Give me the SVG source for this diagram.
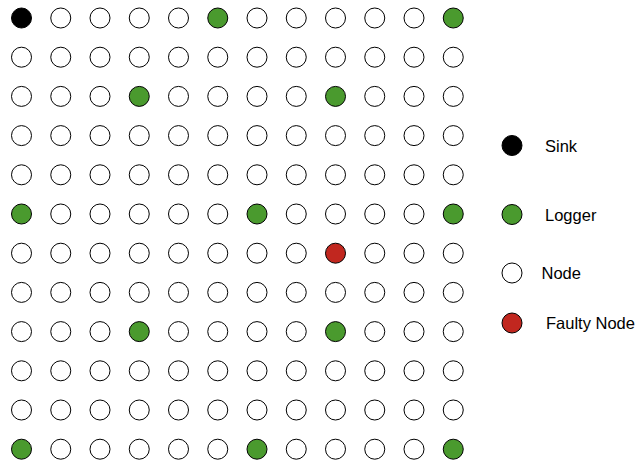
<svg xmlns="http://www.w3.org/2000/svg" width="638" height="465" viewBox="0 0 638 465">
<style>
circle{stroke:#000;stroke-width:1;r:10px}
.n{fill:#fff}
.s{fill:#000}
.l{fill:#4a9a2e}
.f{fill:#c1271f}
text{font-family:"Liberation Sans",Arial,sans-serif;font-size:16.5px;fill:#000}
</style>
<rect width="638" height="465" fill="#fff"/>
<g id="connectors"/>
<g id="grid">
<g id="n0-0"><circle class="s" cx="21.5" cy="18" r="10"/></g>
<g id="n0-1"><circle class="n" cx="60.75" cy="18" r="10"/></g>
<g id="n0-2"><circle class="n" cx="100" cy="18" r="10"/></g>
<g id="n0-3"><circle class="n" cx="139.25" cy="18" r="10"/></g>
<g id="n0-4"><circle class="n" cx="178.5" cy="18" r="10"/></g>
<g id="n0-5"><circle class="l" cx="217.75" cy="18" r="10"/></g>
<g id="n0-6"><circle class="n" cx="257" cy="18" r="10"/></g>
<g id="n0-7"><circle class="n" cx="296.25" cy="18" r="10"/></g>
<g id="n0-8"><circle class="n" cx="335.5" cy="18" r="10"/></g>
<g id="n0-9"><circle class="n" cx="374.75" cy="18" r="10"/></g>
<g id="n0-10"><circle class="n" cx="414" cy="18" r="10"/></g>
<g id="n0-11"><circle class="l" cx="453.25" cy="18" r="10"/></g>
<g id="n1-0"><circle class="n" cx="21.5" cy="57.2" r="10"/></g>
<g id="n1-1"><circle class="n" cx="60.75" cy="57.2" r="10"/></g>
<g id="n1-2"><circle class="n" cx="100" cy="57.2" r="10"/></g>
<g id="n1-3"><circle class="n" cx="139.25" cy="57.2" r="10"/></g>
<g id="n1-4"><circle class="n" cx="178.5" cy="57.2" r="10"/></g>
<g id="n1-5"><circle class="n" cx="217.75" cy="57.2" r="10"/></g>
<g id="n1-6"><circle class="n" cx="257" cy="57.2" r="10"/></g>
<g id="n1-7"><circle class="n" cx="296.25" cy="57.2" r="10"/></g>
<g id="n1-8"><circle class="n" cx="335.5" cy="57.2" r="10"/></g>
<g id="n1-9"><circle class="n" cx="374.75" cy="57.2" r="10"/></g>
<g id="n1-10"><circle class="n" cx="414" cy="57.2" r="10"/></g>
<g id="n1-11"><circle class="n" cx="453.25" cy="57.2" r="10"/></g>
<g id="n2-0"><circle class="n" cx="21.5" cy="96.4" r="10"/></g>
<g id="n2-1"><circle class="n" cx="60.75" cy="96.4" r="10"/></g>
<g id="n2-2"><circle class="n" cx="100" cy="96.4" r="10"/></g>
<g id="n2-3"><circle class="l" cx="139.25" cy="96.4" r="10"/></g>
<g id="n2-4"><circle class="n" cx="178.5" cy="96.4" r="10"/></g>
<g id="n2-5"><circle class="n" cx="217.75" cy="96.4" r="10"/></g>
<g id="n2-6"><circle class="n" cx="257" cy="96.4" r="10"/></g>
<g id="n2-7"><circle class="n" cx="296.25" cy="96.4" r="10"/></g>
<g id="n2-8"><circle class="l" cx="335.5" cy="96.4" r="10"/></g>
<g id="n2-9"><circle class="n" cx="374.75" cy="96.4" r="10"/></g>
<g id="n2-10"><circle class="n" cx="414" cy="96.4" r="10"/></g>
<g id="n2-11"><circle class="n" cx="453.25" cy="96.4" r="10"/></g>
<g id="n3-0"><circle class="n" cx="21.5" cy="135.6" r="10"/></g>
<g id="n3-1"><circle class="n" cx="60.75" cy="135.6" r="10"/></g>
<g id="n3-2"><circle class="n" cx="100" cy="135.6" r="10"/></g>
<g id="n3-3"><circle class="n" cx="139.25" cy="135.6" r="10"/></g>
<g id="n3-4"><circle class="n" cx="178.5" cy="135.6" r="10"/></g>
<g id="n3-5"><circle class="n" cx="217.75" cy="135.6" r="10"/></g>
<g id="n3-6"><circle class="n" cx="257" cy="135.6" r="10"/></g>
<g id="n3-7"><circle class="n" cx="296.25" cy="135.6" r="10"/></g>
<g id="n3-8"><circle class="n" cx="335.5" cy="135.6" r="10"/></g>
<g id="n3-9"><circle class="n" cx="374.75" cy="135.6" r="10"/></g>
<g id="n3-10"><circle class="n" cx="414" cy="135.6" r="10"/></g>
<g id="n3-11"><circle class="n" cx="453.25" cy="135.6" r="10"/></g>
<g id="n4-0"><circle class="n" cx="21.5" cy="174.8" r="10"/></g>
<g id="n4-1"><circle class="n" cx="60.75" cy="174.8" r="10"/></g>
<g id="n4-2"><circle class="n" cx="100" cy="174.8" r="10"/></g>
<g id="n4-3"><circle class="n" cx="139.25" cy="174.8" r="10"/></g>
<g id="n4-4"><circle class="n" cx="178.5" cy="174.8" r="10"/></g>
<g id="n4-5"><circle class="n" cx="217.75" cy="174.8" r="10"/></g>
<g id="n4-6"><circle class="n" cx="257" cy="174.8" r="10"/></g>
<g id="n4-7"><circle class="n" cx="296.25" cy="174.8" r="10"/></g>
<g id="n4-8"><circle class="n" cx="335.5" cy="174.8" r="10"/></g>
<g id="n4-9"><circle class="n" cx="374.75" cy="174.8" r="10"/></g>
<g id="n4-10"><circle class="n" cx="414" cy="174.8" r="10"/></g>
<g id="n4-11"><circle class="n" cx="453.25" cy="174.8" r="10"/></g>
<g id="n5-0"><circle class="l" cx="21.5" cy="214" r="10"/></g>
<g id="n5-1"><circle class="n" cx="60.75" cy="214" r="10"/></g>
<g id="n5-2"><circle class="n" cx="100" cy="214" r="10"/></g>
<g id="n5-3"><circle class="n" cx="139.25" cy="214" r="10"/></g>
<g id="n5-4"><circle class="n" cx="178.5" cy="214" r="10"/></g>
<g id="n5-5"><circle class="n" cx="217.75" cy="214" r="10"/></g>
<g id="n5-6"><circle class="l" cx="257" cy="214" r="10"/></g>
<g id="n5-7"><circle class="n" cx="296.25" cy="214" r="10"/></g>
<g id="n5-8"><circle class="n" cx="335.5" cy="214" r="10"/></g>
<g id="n5-9"><circle class="n" cx="374.75" cy="214" r="10"/></g>
<g id="n5-10"><circle class="n" cx="414" cy="214" r="10"/></g>
<g id="n5-11"><circle class="l" cx="453.25" cy="214" r="10"/></g>
<g id="n6-0"><circle class="n" cx="21.5" cy="253.2" r="10"/></g>
<g id="n6-1"><circle class="n" cx="60.75" cy="253.2" r="10"/></g>
<g id="n6-2"><circle class="n" cx="100" cy="253.2" r="10"/></g>
<g id="n6-3"><circle class="n" cx="139.25" cy="253.2" r="10"/></g>
<g id="n6-4"><circle class="n" cx="178.5" cy="253.2" r="10"/></g>
<g id="n6-5"><circle class="n" cx="217.75" cy="253.2" r="10"/></g>
<g id="n6-6"><circle class="n" cx="257" cy="253.2" r="10"/></g>
<g id="n6-7"><circle class="n" cx="296.25" cy="253.2" r="10"/></g>
<g id="n6-8"><circle class="f" cx="335.5" cy="253.2" r="10"/></g>
<g id="n6-9"><circle class="n" cx="374.75" cy="253.2" r="10"/></g>
<g id="n6-10"><circle class="n" cx="414" cy="253.2" r="10"/></g>
<g id="n6-11"><circle class="n" cx="453.25" cy="253.2" r="10"/></g>
<g id="n7-0"><circle class="n" cx="21.5" cy="292.4" r="10"/></g>
<g id="n7-1"><circle class="n" cx="60.75" cy="292.4" r="10"/></g>
<g id="n7-2"><circle class="n" cx="100" cy="292.4" r="10"/></g>
<g id="n7-3"><circle class="n" cx="139.25" cy="292.4" r="10"/></g>
<g id="n7-4"><circle class="n" cx="178.5" cy="292.4" r="10"/></g>
<g id="n7-5"><circle class="n" cx="217.75" cy="292.4" r="10"/></g>
<g id="n7-6"><circle class="n" cx="257" cy="292.4" r="10"/></g>
<g id="n7-7"><circle class="n" cx="296.25" cy="292.4" r="10"/></g>
<g id="n7-8"><circle class="n" cx="335.5" cy="292.4" r="10"/></g>
<g id="n7-9"><circle class="n" cx="374.75" cy="292.4" r="10"/></g>
<g id="n7-10"><circle class="n" cx="414" cy="292.4" r="10"/></g>
<g id="n7-11"><circle class="n" cx="453.25" cy="292.4" r="10"/></g>
<g id="n8-0"><circle class="n" cx="21.5" cy="331.6" r="10"/></g>
<g id="n8-1"><circle class="n" cx="60.75" cy="331.6" r="10"/></g>
<g id="n8-2"><circle class="n" cx="100" cy="331.6" r="10"/></g>
<g id="n8-3"><circle class="l" cx="139.25" cy="331.6" r="10"/></g>
<g id="n8-4"><circle class="n" cx="178.5" cy="331.6" r="10"/></g>
<g id="n8-5"><circle class="n" cx="217.75" cy="331.6" r="10"/></g>
<g id="n8-6"><circle class="n" cx="257" cy="331.6" r="10"/></g>
<g id="n8-7"><circle class="n" cx="296.25" cy="331.6" r="10"/></g>
<g id="n8-8"><circle class="l" cx="335.5" cy="331.6" r="10"/></g>
<g id="n8-9"><circle class="n" cx="374.75" cy="331.6" r="10"/></g>
<g id="n8-10"><circle class="n" cx="414" cy="331.6" r="10"/></g>
<g id="n8-11"><circle class="n" cx="453.25" cy="331.6" r="10"/></g>
<g id="n9-0"><circle class="n" cx="21.5" cy="370.8" r="10"/></g>
<g id="n9-1"><circle class="n" cx="60.75" cy="370.8" r="10"/></g>
<g id="n9-2"><circle class="n" cx="100" cy="370.8" r="10"/></g>
<g id="n9-3"><circle class="n" cx="139.25" cy="370.8" r="10"/></g>
<g id="n9-4"><circle class="n" cx="178.5" cy="370.8" r="10"/></g>
<g id="n9-5"><circle class="n" cx="217.75" cy="370.8" r="10"/></g>
<g id="n9-6"><circle class="n" cx="257" cy="370.8" r="10"/></g>
<g id="n9-7"><circle class="n" cx="296.25" cy="370.8" r="10"/></g>
<g id="n9-8"><circle class="n" cx="335.5" cy="370.8" r="10"/></g>
<g id="n9-9"><circle class="n" cx="374.75" cy="370.8" r="10"/></g>
<g id="n9-10"><circle class="n" cx="414" cy="370.8" r="10"/></g>
<g id="n9-11"><circle class="n" cx="453.25" cy="370.8" r="10"/></g>
<g id="n10-0"><circle class="n" cx="21.5" cy="410" r="10"/></g>
<g id="n10-1"><circle class="n" cx="60.75" cy="410" r="10"/></g>
<g id="n10-2"><circle class="n" cx="100" cy="410" r="10"/></g>
<g id="n10-3"><circle class="n" cx="139.25" cy="410" r="10"/></g>
<g id="n10-4"><circle class="n" cx="178.5" cy="410" r="10"/></g>
<g id="n10-5"><circle class="n" cx="217.75" cy="410" r="10"/></g>
<g id="n10-6"><circle class="n" cx="257" cy="410" r="10"/></g>
<g id="n10-7"><circle class="n" cx="296.25" cy="410" r="10"/></g>
<g id="n10-8"><circle class="n" cx="335.5" cy="410" r="10"/></g>
<g id="n10-9"><circle class="n" cx="374.75" cy="410" r="10"/></g>
<g id="n10-10"><circle class="n" cx="414" cy="410" r="10"/></g>
<g id="n10-11"><circle class="n" cx="453.25" cy="410" r="10"/></g>
<g id="n11-0"><circle class="l" cx="21.5" cy="449.2" r="10"/></g>
<g id="n11-1"><circle class="n" cx="60.75" cy="449.2" r="10"/></g>
<g id="n11-2"><circle class="n" cx="100" cy="449.2" r="10"/></g>
<g id="n11-3"><circle class="n" cx="139.25" cy="449.2" r="10"/></g>
<g id="n11-4"><circle class="n" cx="178.5" cy="449.2" r="10"/></g>
<g id="n11-5"><circle class="n" cx="217.75" cy="449.2" r="10"/></g>
<g id="n11-6"><circle class="l" cx="257" cy="449.2" r="10"/></g>
<g id="n11-7"><circle class="n" cx="296.25" cy="449.2" r="10"/></g>
<g id="n11-8"><circle class="n" cx="335.5" cy="449.2" r="10"/></g>
<g id="n11-9"><circle class="n" cx="374.75" cy="449.2" r="10"/></g>
<g id="n11-10"><circle class="n" cx="414" cy="449.2" r="10"/></g>
<g id="n11-11"><circle class="l" cx="453.25" cy="449.2" r="10"/></g>
</g>
<g id="legend">
<g id="legend-sink"><circle class="s" cx="512" cy="145.5" r="10"/><text x="545" y="151.5">Sink</text></g>
<g id="legend-logger"><circle class="l" cx="512" cy="214.5" r="10"/><text x="545" y="220.5">Logger</text></g>
<g id="legend-node"><circle class="n" cx="512" cy="273" r="10"/><text x="541.5" y="279">Node</text></g>
<g id="legend-faulty"><circle class="f" cx="512" cy="323" r="10"/><text x="546" y="329">Faulty Node</text></g>
</g>
</svg>
